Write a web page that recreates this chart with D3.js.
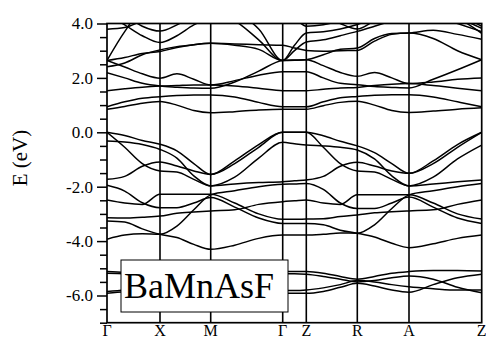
<!DOCTYPE html>
<html>
<head>
<meta charset="utf-8">
<script src="https://cdn.jsdelivr.net/npm/d3@7"></script>
<style>
  body { margin: 0; background: #fff; }
  svg { display: block; }
</style>
</head>
<body>
<svg id="drawing_region"></svg>
<script>
// high symmetry points along the path (path length, arbitrary units)
const kNodes = [0, 53, 103.7, 175.7, 199.3, 250.3, 302, 374.7];
const kLabels = ["Γ", "X", "M", "Γ", "Z", "R", "A", "Z"];
// k sampling used for the band values below
const kGrid = [0, 17.7, 35.3, 53, 69.9, 86.8, 103.7, 127.7, 151.7, 175.7, 187.5,
               199.3, 216.3, 233.3, 250.3, 267.5, 284.8, 302, 326.2, 350.5, 374.7];

const yMajor = [-6, -4, -2, 0, 2, 4];

// deep F-p like bands (eV)
const deep = [
  [-5.12,-5.15,-5.2,-5.25,-5.25,-5.2,-5.18,-5.15,-5.13,-5.12,-5.12,-5.12,-5.18,-5.3,-5.4,-5.3,-5.18,-5.12,-5.08,-5.08,-5.1],
  [-5.18,-5.2,-5.3,-5.4,-5.4,-5.35,-5.3,-5.25,-5.2,-5.2,-5.2,-5.22,-5.3,-5.4,-5.5,-5.45,-5.35,-5.28,-5.4,-5.7,-5.9],
  [-5.85,-5.8,-5.7,-5.55,-5.55,-5.65,-5.7,-5.75,-5.8,-5.82,-5.82,-5.8,-5.72,-5.6,-5.45,-5.5,-5.6,-5.68,-5.75,-5.8,-5.8],
  [-5.92,-5.85,-5.75,-5.6,-5.6,-5.75,-5.85,-5.9,-5.92,-5.92,-5.92,-5.92,-5.85,-5.7,-5.55,-5.65,-5.8,-5.88,-5.6,-5.35,-5.22]
];

// valence bands (eV)
const valence = [
  [0.0,-0.12,-0.3,-0.44,-0.68,-1.15,-1.55,-1.05,-0.45,0.0,0.0,0.0,-0.13,-0.33,-0.5,-0.75,-1.15,-1.51,-1.05,-0.45,0.0],
  [0.0,-0.55,-1.15,-1.42,-1.46,-1.73,-1.97,-1.9,-1.85,-1.82,-1.78,-1.75,-1.62,-1.25,-1.1,-1.24,-1.42,-1.51,-1.15,-0.55,0.0],
  [-1.73,-1.62,-1.25,-1.09,-1.24,-1.42,-1.55,-1.15,-0.55,0.0,0.0,0.0,-0.55,-1.15,-1.42,-1.46,-1.73,-1.97,-1.9,-1.82,-1.75],
  [-0.32,-0.36,-0.45,-0.63,-0.95,-1.6,-1.97,-1.65,-0.95,-0.37,-0.42,-0.47,-0.5,-0.55,-0.65,-0.98,-1.6,-1.97,-1.65,-0.98,-0.47],
  [-1.95,-2.16,-2.59,-2.77,-2.77,-2.6,-2.4,-2.75,-3.15,-3.35,-3.35,-3.35,-3.4,-3.6,-3.71,-3.85,-4.08,-4.24,-4.1,-3.9,-3.78],
  [-2.49,-2.6,-2.65,-2.28,-2.28,-2.28,-2.28,-2.6,-3.0,-3.2,-3.2,-3.19,-3.18,-3.1,-3.04,-2.96,-2.92,-2.89,-2.85,-2.65,-2.49],
  [-3.14,-3.15,-3.12,-3.08,-2.98,-2.93,-2.89,-2.85,-2.65,-2.55,-2.52,-2.49,-2.6,-2.65,-2.3,-2.3,-2.3,-2.3,-2.6,-3.0,-3.19],
  [-3.26,-3.3,-3.55,-3.75,-3.87,-4.12,-4.3,-4.15,-3.9,-3.78,-3.78,-3.78,-3.75,-3.7,-3.71,-3.4,-2.8,-2.3,-2.15,-2.0,-1.88],
  [-3.93,-3.78,-3.73,-3.75,-3.45,-2.85,-2.3,-2.15,-2.0,-1.91,-1.9,-1.88,-2.1,-2.6,-2.8,-2.8,-2.6,-2.38,-2.75,-3.15,-3.35]
];

// conduction bands (eV)
const conduction = [
  [0.85,0.95,1.07,1.13,1.0,0.8,0.72,0.76,0.82,0.85,0.85,0.85,0.98,1.1,1.14,1.0,0.8,0.73,0.78,0.85,0.9],
  [0.94,1.12,1.25,1.31,1.35,1.37,1.37,1.3,1.1,0.94,0.94,0.94,1.12,1.27,1.32,1.36,1.38,1.38,1.3,1.12,0.94],
  [1.53,1.6,1.66,1.7,1.72,1.74,1.74,1.7,1.62,1.53,1.53,1.53,1.58,1.63,1.65,1.72,1.77,1.79,1.72,1.62,1.53],
  [2.19,2.0,1.8,1.7,1.66,1.63,1.62,1.85,2.25,2.64,2.66,2.67,2.45,2.2,2.06,2.2,2.0,1.79,1.85,1.95,2.0],
  [2.64,2.4,2.15,1.99,2.15,1.95,1.74,1.9,2.1,2.23,2.23,2.23,2.0,1.8,1.75,1.68,1.65,1.63,1.95,2.3,2.67],
  [2.41,2.55,2.85,3.03,3.15,3.22,3.27,3.25,3.22,3.2,3.1,3.01,2.98,3.0,3.01,3.35,3.6,3.65,3.45,3.0,2.67],
  [2.64,2.75,2.9,2.97,3.12,3.22,3.27,3.2,3.05,2.64,2.65,2.67,2.85,3.05,3.1,3.45,3.63,3.65,3.75,3.6,3.42],
  [2.64,3.7,4.5,4.6,4.5,4.4,4.4,4.1,3.4,2.64,3.0,3.32,3.4,3.55,3.71,3.9,4.1,4.3,4.4,4.2,3.82],
  [3.79,3.85,4.1,4.3,4.4,4.5,4.5,4.4,3.8,2.64,3.2,3.65,3.7,3.8,3.96,4.2,4.4,4.5,4.5,4.2,3.64],
  [4.3,3.95,3.55,3.3,3.55,3.95,4.2,4.5,4.5,4.4,4.2,3.9,3.95,4.1,4.3,4.5,4.5,4.5,4.5,4.3,3.9],
  [4.5,4.3,3.9,3.72,3.95,4.3,4.5,4.5,4.5,4.5,4.5,4.5,4.3,4.0,3.8,4.1,4.4,4.5,4.3,4.0,3.7]
];

const config = {
  width: 486,
  height: 341,
  margin: {top: 23.5, right: 4.3, bottom: 18.3, left: 107}
};

const inner_width = config.width - config.margin.left - config.margin.right;
const inner_height = config.height - config.margin.top - config.margin.bottom;
const font = "'Liberation Serif', 'Times New Roman', serif";

const svg = d3.select('#drawing_region')
  .attr('width', config.width)
  .attr('height', config.height);

const chart = svg.append('g')
  .attr('transform', `translate(${config.margin.left}, ${config.margin.top})`);

const xscale = d3.scaleLinear()
  .domain([kNodes[0], kNodes[kNodes.length - 1]])
  .range([0, inner_width]);

const yscale = d3.scaleLinear()
  .domain([-7, 4])
  .range([inner_height, 0]);

chart.append('clipPath').attr('id', 'clip')
  .append('rect')
  .attr('width', inner_width)
  .attr('height', inner_height);

// vertical lines at high symmetry points
chart.selectAll('.kline')
  .data(kNodes.slice(1, -1))
  .enter()
  .append('line')
  .attr('x1', d => xscale(d)).attr('x2', d => xscale(d))
  .attr('y1', 0).attr('y2', inner_height)
  .attr('stroke', '#000')
  .attr('stroke-width', 1.6);

const line = d3.line()
  .x((d, i) => xscale(kGrid[i]))
  .y(d => yscale(d))
  .curve(d3.curveMonotoneX);

chart.append('g')
  .attr('clip-path', 'url(#clip)')
  .selectAll('path')
  .data(deep.concat(valence, conduction))
  .enter()
  .append('path')
  .attr('d', line)
  .attr('fill', 'none')
  .attr('stroke', '#000')
  .attr('stroke-width', 1.5);

// frame
chart.append('rect')
  .attr('width', inner_width)
  .attr('height', inner_height)
  .attr('fill', 'none')
  .attr('stroke', '#000')
  .attr('stroke-width', 1.7);

// y axis: minor ticks
const minorTicks = d3.range(-7, 4.01, 0.5).filter(v => !yMajor.includes(v));
chart.append('g')
  .call(d3.axisLeft(yscale).tickValues(minorTicks).tickSize(7).tickFormat(''))
  .call(g => g.select('.domain').remove())
  .selectAll('line').attr('stroke-width', 1.5);

// y axis: major ticks with labels
const yaxis_group = chart.append('g')
  .call(d3.axisLeft(yscale).tickValues(yMajor).tickSize(10).tickPadding(4)
    .tickFormat(d => d.toFixed(1)));
yaxis_group.select('.domain').remove();
yaxis_group.selectAll('line').attr('stroke-width', 1.5);
yaxis_group.selectAll('text')
  .attr('font-family', font)
  .attr('font-size', 17)
  .attr('fill', '#000');

// k labels
chart.selectAll('.klabel')
  .data(kNodes)
  .enter()
  .append('text')
  .attr('x', d => xscale(d))
  .attr('y', inner_height + 13.5)
  .attr('text-anchor', 'middle')
  .attr('font-family', font)
  .attr('font-size', 16)
  .text((d, i) => kLabels[i]);

// axis title
svg.append('text')
  .attr('transform', 'translate(27, 158) rotate(-90)')
  .attr('text-anchor', 'middle')
  .attr('font-family', font)
  .attr('font-size', 21)
  .text('E (eV)');

// compound label box
svg.append('rect')
  .attr('x', 121).attr('y', 260)
  .attr('width', 167).attr('height', 52)
  .attr('fill', '#fff')
  .attr('stroke', '#000')
  .attr('stroke-width', 1);

svg.append('text')
  .attr('x', 124).attr('y', 298)
  .attr('font-family', font)
  .attr('font-size', 36)
  .text('BaMnAsF');
</script>
</body>
</html>
